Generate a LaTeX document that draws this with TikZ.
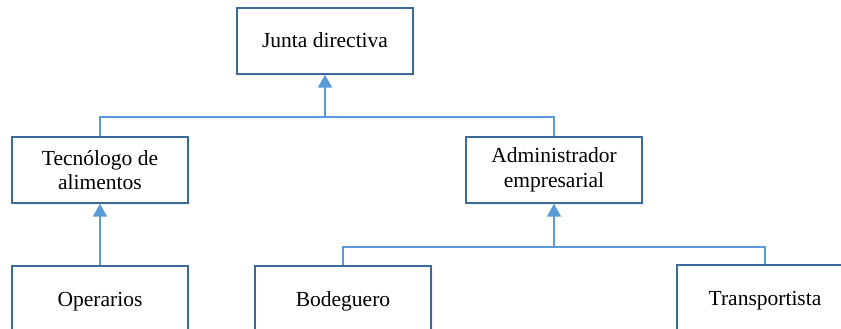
\documentclass[tikz,border=0pt]{standalone}
\usepackage{fontspec}
\setmainfont{Liberation Serif}
\usetikzlibrary{arrows.meta,shadows}
\definecolor{boxline}{HTML}{3D6A96}
\definecolor{linkblue}{HTML}{5B9BD5}
\begin{document}
\begin{tikzpicture}[x=1pt,y=-1pt,
  orgbox/.style={draw=boxline, line width=1.4pt, fill=white,
    minimum width=176pt, minimum height=66pt, inner sep=2pt,
    align=center, font=\fontsize{21.5}{24.5}\selectfont,
    drop shadow={opacity=0.12, shadow xshift=2pt, shadow yshift=-2pt}},
  oneline/.style={orgbox, text height=16pt, text depth=2pt},
  link/.style={draw=linkblue, line width=2pt},
  uparrow/.style={link, -{Triangle[width=14pt,length=13pt]}}]
  \useasboundingbox (0,0) rectangle (841,329);
  \clip (0,0) rectangle (841,329);

  % top level
  \node[oneline] (junta) at (325,41) {Junta directiva};

  % second level
  \node[orgbox] (tec) at (100,170) {Tecnólogo de\\alimentos};
  \node[orgbox] (adm) at (554,170) {Administrador\\empresarial};

  % third level
  \node[oneline] (ope) at (100,299) {Operarios};
  \node[oneline] (bod) at (343,299) {Bodeguero};
  \node[oneline] (tra) at (765,298) {Transportista};

  % junctions
  \coordinate (j1) at (325,117);
  \coordinate (j2) at (554,247);

  % links into the board
  \draw[link] (tec.north) |- (j1) -| (adm.north);
  \draw[uparrow] (j1) -- (junta.south);

  % links into the food technologist
  \draw[uparrow] (ope.north) -- (tec.south);

  % links into the business administrator
  \draw[link] (bod.north) |- (j2) -| (tra.north);
  \draw[uparrow] (j2) -- (adm.south);
\end{tikzpicture}
\end{document}
